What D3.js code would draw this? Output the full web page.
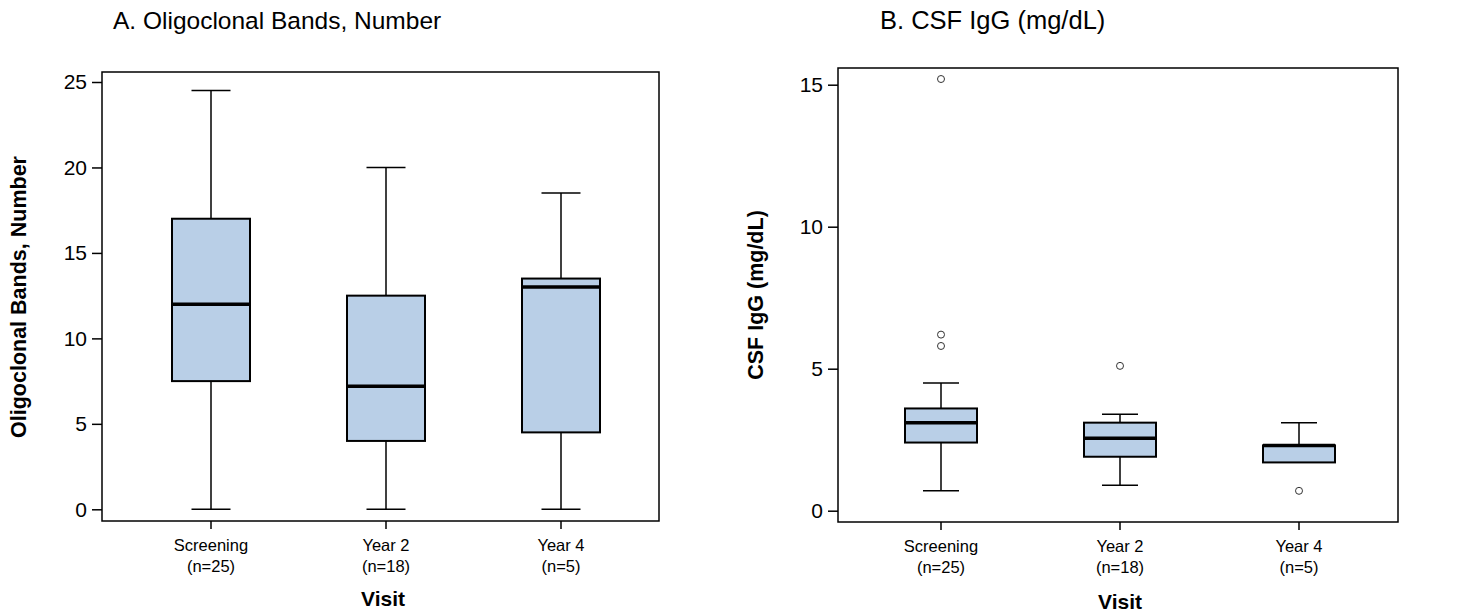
<!DOCTYPE html>
<html>
<head>
<meta charset="utf-8">
<script src="https://cdn.jsdelivr.net/npm/d3@7"></script>
<style>
  body { margin: 0; background: #fff; }
  text { font-family: Arial, "Liberation Sans", sans-serif; fill: #000; }
</style>
</head>
<body>
<svg width="1460" height="612"></svg>
<script>
// visits (x categories) and n labels
var visits = ['Screening', 'Year 2', 'Year 4'];
var counts = ['(n=25)', '(n=18)', '(n=5)'];

// A. oligoclonal bands: [low whisker, q1, median, q3, high whisker]
var ocbLow = [0, 0, 0];
var ocbQ1 = [7.5, 4.0, 4.5];
var ocbMed = [12.0, 7.2, 13.0];
var ocbQ3 = [17.0, 12.5, 13.5];
var ocbHigh = [24.5, 20.0, 18.5];
var ocbOutliers = [[], [], []];
var ocbTicks = [0, 5, 10, 15, 20, 25];

// B. CSF IgG
var iggLow = [0.7, 0.9, 1.7];
var iggQ1 = [2.4, 1.9, 1.7];
var iggMed = [3.1, 2.55, 2.3];
var iggQ3 = [3.6, 3.1, 2.3];
var iggHigh = [4.5, 3.4, 3.1];
var iggOutliers = [[15.2, 6.2, 5.8], [5.1], [0.7]];
var iggTicks = [0, 5, 10, 15];

var svg = d3.select('svg');

function drawPanel(opt) {
  var g = svg.append('g');
  var x = d3.scalePoint().domain(visits).range([opt.left + opt.padL, opt.right - opt.padR]);
  var y = d3.scaleLinear().domain(opt.domain).range([opt.bottom, opt.top]);

  var stats = visits.map(function(v, i) {
    return {v: v, n: counts[i], lo: opt.lo[i], q1: opt.q1[i], med: opt.med[i],
            q3: opt.q3[i], hi: opt.hi[i], out: opt.out[i]};
  });

  // frame
  g.append('rect')
    .attr('x', opt.left).attr('y', opt.frameTop)
    .attr('width', opt.right - opt.left).attr('height', opt.frameBottom - opt.frameTop)
    .attr('fill', 'none').attr('stroke', '#000').attr('stroke-width', 1.5);

  // y axis
  var yAxis = g.append('g')
    .attr('transform', 'translate(' + opt.left + ',0)')
    .call(d3.axisLeft(y).tickValues(opt.ticks).tickSize(10).tickPadding(5).tickFormat(d3.format('d')));
  yAxis.select('.domain').remove();
  yAxis.selectAll('line').attr('stroke', '#000').attr('stroke-width', 1.5);
  yAxis.selectAll('text').attr('font-size', 21).attr('font-family', 'Arial, "Liberation Sans", sans-serif');

  // x ticks
  g.selectAll('.xt').data(stats).enter().append('line')
    .attr('x1', function(d) { return x(d.v); }).attr('x2', function(d) { return x(d.v); })
    .attr('y1', opt.frameBottom).attr('y2', opt.frameBottom + 8)
    .attr('stroke', '#000').attr('stroke-width', 1.5);
  g.selectAll('.xl1').data(stats).enter().append('text')
    .attr('x', function(d) { return x(d.v); }).attr('y', opt.frameBottom + 30)
    .attr('text-anchor', 'middle').attr('font-size', 16.5)
    .text(function(d) { return d.v; });
  g.selectAll('.xl2').data(stats).enter().append('text')
    .attr('x', function(d) { return x(d.v); }).attr('y', opt.frameBottom + 51)
    .attr('text-anchor', 'middle').attr('font-size', 16.5)
    .text(function(d) { return d.n; });

  // whiskers
  var bw = opt.boxW;
  g.selectAll('.wu').data(stats).enter().append('line')
    .attr('x1', function(d) { return x(d.v); }).attr('x2', function(d) { return x(d.v); })
    .attr('y1', function(d) { return y(d.q3); }).attr('y2', function(d) { return y(d.hi); })
    .attr('stroke', '#000').attr('stroke-width', 1.5);
  g.selectAll('.wl').data(stats).enter().append('line')
    .attr('x1', function(d) { return x(d.v); }).attr('x2', function(d) { return x(d.v); })
    .attr('y1', function(d) { return y(d.q1); }).attr('y2', function(d) { return y(d.lo); })
    .attr('stroke', '#000').attr('stroke-width', 1.5);
  g.selectAll('.cu').data(stats.filter(function(d) { return d.hi > d.q3; })).enter().append('line')
    .attr('x1', function(d) { return x(d.v) - bw / 4; }).attr('x2', function(d) { return x(d.v) + bw / 4; })
    .attr('y1', function(d) { return y(d.hi); }).attr('y2', function(d) { return y(d.hi); })
    .attr('stroke', '#000').attr('stroke-width', 1.5);
  g.selectAll('.cl').data(stats.filter(function(d) { return d.lo < d.q1; })).enter().append('line')
    .attr('x1', function(d) { return x(d.v) - bw / 4; }).attr('x2', function(d) { return x(d.v) + bw / 4; })
    .attr('y1', function(d) { return y(d.lo); }).attr('y2', function(d) { return y(d.lo); })
    .attr('stroke', '#000').attr('stroke-width', 1.5);

  // boxes
  g.selectAll('.box').data(stats).enter().append('rect')
    .attr('x', function(d) { return x(d.v) - bw / 2; })
    .attr('y', function(d) { return y(d.q3); })
    .attr('width', bw)
    .attr('height', function(d) { return y(d.q1) - y(d.q3); })
    .attr('fill', '#b9cfe7').attr('stroke', '#000').attr('stroke-width', 2);
  g.selectAll('.med').data(stats).enter().append('line')
    .attr('x1', function(d) { return x(d.v) - bw / 2; }).attr('x2', function(d) { return x(d.v) + bw / 2; })
    .attr('y1', function(d) { return y(d.med); }).attr('y2', function(d) { return y(d.med); })
    .attr('stroke', '#000').attr('stroke-width', 3.5);

  // outliers
  var pts = [];
  stats.forEach(function(d) { d.out.forEach(function(o) { pts.push({v: d.v, val: o}); }); });
  g.selectAll('.out').data(pts).enter().append('circle')
    .attr('cx', function(d) { return x(d.v); }).attr('cy', function(d) { return y(d.val); })
    .attr('r', 3.5).attr('fill', '#fff').attr('stroke', '#333').attr('stroke-width', 1);

  // titles
  g.append('text').attr('x', opt.titleX).attr('y', 28.5).attr('font-size', opt.titleSize).text(opt.title);
  g.append('text')
    .attr('transform', 'translate(' + opt.ylabX + ',' + opt.ylabY + ') rotate(-90)')
    .attr('text-anchor', 'middle').attr('font-size', 21.5).attr('font-weight', 'bold')
    .text(opt.ylab);
  g.append('text').attr('x', opt.visitX).attr('y', opt.visitY)
    .attr('text-anchor', 'middle').attr('font-size', 21).attr('font-weight', 'bold')
    .attr('font-family', opt.visitFont)
    .text('Visit');
}

drawPanel({
  left: 102, right: 659, frameTop: 72, frameBottom: 521,
  top: 82, bottom: 509.3, padL: 109, padR: 98,
  domain: [0, 25], ticks: ocbTicks, boxW: 78,
  lo: ocbLow, q1: ocbQ1, med: ocbMed, q3: ocbQ3, hi: ocbHigh, out: ocbOutliers,
  title: 'A. Oligoclonal Bands, Number', titleX: 113, titleSize: 24.5,
  ylab: 'Oligoclonal Bands, Number', ylabX: 26, ylabY: 297,
  visitX: 383, visitY: 606, visitFont: 'Arial, "Liberation Sans", sans-serif'
});

drawPanel({
  left: 838, right: 1398, frameTop: 68, frameBottom: 522,
  top: 84.7, bottom: 510.7, padL: 103, padR: 99,
  domain: [0, 15], ticks: iggTicks, boxW: 72,
  lo: iggLow, q1: iggQ1, med: iggMed, q3: iggQ3, hi: iggHigh, out: iggOutliers,
  title: 'B. CSF IgG (mg/dL)', titleX: 880, titleSize: 25.5,
  ylab: 'CSF IgG (mg/dL)', ylabX: 763, ylabY: 295,
  visitX: 1120, visitY: 609, visitFont: 'Carlito, "Open Sans", sans-serif'
});
</script>
</body>
</html>
